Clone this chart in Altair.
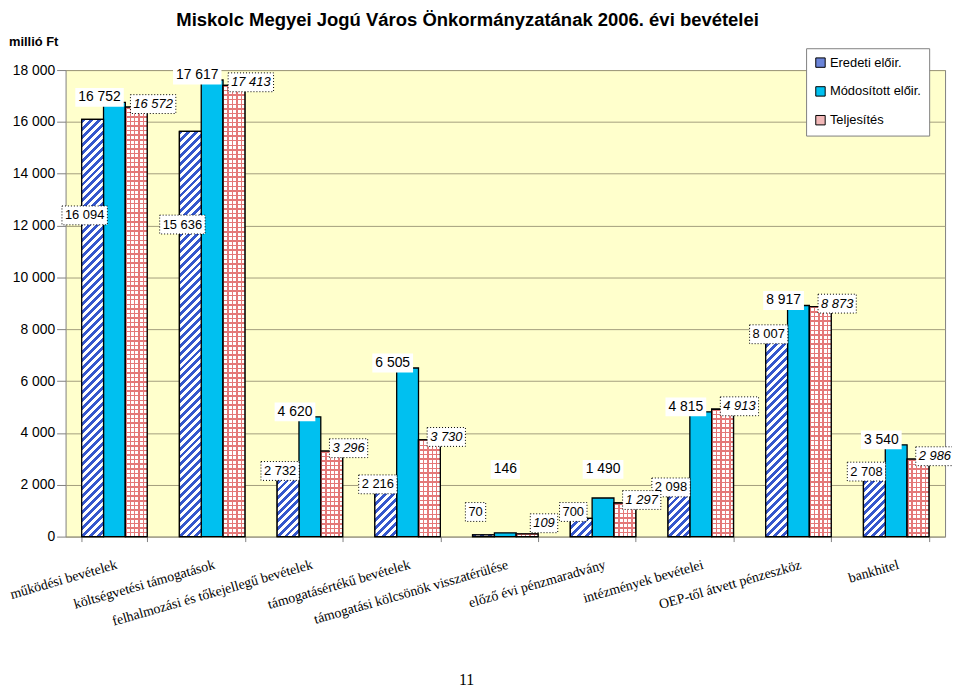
import altair as alt

# ---------------- data ----------------
categories = [
    "működési bevételek",
    "költségvetési  támogatások",
    "felhalmozási és tőkejellegű bevételek",
    "támogatásértékű bevételek",
    "támogatási kölcsönök visszatérülése",
    "előző évi pénzmaradvány",
    "intézmények bevételei",
    "OEP-től átvett pénzeszköz",
    "bankhitel",
]
series_names = ["Eredeti előir.", "Módosított előir.", "Teljesítés"]
eredeti = [16094, 15636, 2732, 2216, 70, 700, 2098, 8007, 2708]
modositott = [16752, 17617, 4620, 6505, 146, 1490, 4815, 8917, 3540]
teljesites = [16572, 17413, 3296, 3730, 109, 1297, 4913, 8873, 2986]
y_ticks = [0, 2000, 4000, 6000, 8000, 10000, 12000, 14000, 16000, 18000]

# ---------------- layout / style ----------------
W, H = 886, 470
YMAX = 18000
PX = H / YMAX
STEP = W / len(categories)
PAD_INNER = 0.33
BAR_W = STEP * (1 - PAD_INNER) / 3

BLUE = "#3557cc"
CYAN = "#00c0f0"
PINK_LINE = "#e47878"
SANS = "Liberation Sans"
SERIF = "Liberation Serif"

# label placement rules per series (small Módosított bars get centred labels)
LABEL = [
    dict(dx=-8, dy=0, size=13, style="normal"),
    dict(dx=-15, dy=-5, size=14, style="normal"),
    dict(dx=17, dy=-3, size=13, style="italic"),
]
MOD_SMALL = 2400


def hatch(h):
    w = BAR_W
    L = w + h
    k = L / (w * w + h * h)
    n = max(1, round(L / 8.0))
    stops = []
    for i in range(n):
        a, b, c = i / n, (i + 0.5) / n, (i + 1) / n
        stops += [
            {"offset": a, "color": BLUE},
            {"offset": b, "color": BLUE},
            {"offset": b, "color": "#ffffff"},
            {"offset": c, "color": "#ffffff"},
        ]
    return {"gradient": "linear", "x1": 0, "y1": 0, "x2": w * k, "y2": h * k, "stops": stops}


def grid_grad(length, vertical, bg):
    n = max(1, round(length / 4.6))
    stops = []
    for i in range(n):
        a, b, c = i / n, (i + 0.32) / n, (i + 1) / n
        stops += [
            {"offset": a, "color": PINK_LINE},
            {"offset": b, "color": PINK_LINE},
            {"offset": b, "color": bg},
            {"offset": c, "color": bg},
        ]
    if vertical:
        return {"gradient": "linear", "x1": 0, "y1": 0, "x2": 0, "y2": 1, "stops": stops}
    return {"gradient": "linear", "x1": 0, "y1": 0, "x2": 1, "y2": 0, "stops": stops}


def fmt(v):
    return f"{v:,}".replace(",", " ")


records = []
for si, (name, vals) in enumerate(zip(series_names, [eredeti, modositott, teljesites])):
    st = LABEL[si]
    for cat, v in zip(categories, vals):
        h = v * PX
        dx, dy = st["dx"], st["dy"]
        small = False
        if si == 0:
            ly = v * 0.77 if v > 10000 else max(v - 200, 950)
        elif si == 1:
            small = v < MOD_SMALL
            ly = max(v, MOD_SMALL)
            if small:
                dx = 0
        else:
            ly = max(v, 400)
        txt = fmt(v)
        tw = st["size"] * sum(0.278 if ch == " " else 0.556 for ch in txt)
        bw, bh = tw + 6, 19
        s = 50.0
        x0, x1 = (dx - bw / 2) / s, (dx + bw / 2) / s
        y0, y1 = (dy - bh / 2) / s, (dy + bh / 2) / s
        box = f"M{x0:.4f},{y0:.4f}H{x1:.4f}V{y1:.4f}H{x0:.4f}Z"
        rec = dict(cat=cat, series=name, value=v, label=txt, ly=ly, box=box, small=small)
        if si == 0:
            rec["g1"] = hatch(h)
        if si == 2:
            rec["g1"] = grid_grad(BAR_W, False, "#ffffff")
            rec["g2"] = grid_grad(h, True, "rgba(255,255,255,0)")
        records.append(rec)

data = alt.Data(values=records)
base = alt.Chart(data)

x_enc = alt.X(
    "cat:N",
    sort=categories,
    title=None,
    scale=alt.Scale(paddingInner=PAD_INNER, paddingOuter=PAD_INNER / 2),
    axis=alt.Axis(
        labelAngle=-16, labelAlign="right", labelBaseline="top", labelPadding=16,
        labelFont=SERIF, labelFontSize=14, labelColor="black", labelLimit=400,
        tickBand="extent", tickSize=5, tickColor="#808080", domain=False, grid=False,
        labelOverlap=False,
    ),
)
xo_enc = alt.XOffset("series:N", sort=series_names, scale=alt.Scale(paddingInner=0, paddingOuter=0))
y_axis = alt.Axis(
    values=y_ticks,
    labelExpr="replace(format(datum.value, ','), ',', ' ')",
    grid=True, gridColor="#a39e7e", gridWidth=1, domain=False,
    tickSize=9, tickColor="#808080", labelFont=SANS, labelFontSize=14,
    labelColor="black", labelPadding=2,
)
y_scale = alt.Scale(domain=[0, YMAX], nice=False)
y_enc = alt.Y("value:Q", stack=None, title=None, scale=y_scale, axis=y_axis)
y_label = alt.Y("ly:Q", title=None, scale=y_scale, axis=y_axis)

bars = base.mark_bar(stroke="black", strokeWidth=1.3, opacity=1).encode(
    x=x_enc, xOffset=xo_enc, y=y_enc,
    color=alt.Color(
        "series:N", sort=series_names,
        scale=alt.Scale(domain=series_names, range=["#6b84d8", CYAN, "#f2b8b8"]),
        legend=alt.Legend(
            title=None, orient="none", legendX=746, legendY=-22, fillColor="white",
            strokeColor="#808080", padding=8, symbolType="square", symbolSize=90,
            symbolStrokeColor="black", symbolStrokeWidth=1, symbolOpacity=1,
            labelFont=SANS, labelFontSize=13, labelColor="black", rowPadding=14,
            labelOffset=3, zindex=1,
        ),
    ),
)

hatch_layer = base.transform_filter(alt.datum.series == series_names[0]).mark_bar(
    stroke="black", strokeWidth=1.3, opacity=1
).encode(x=x_enc, xOffset=xo_enc, y=y_enc, fill=alt.Fill("g1:N", scale=None))

vgrid_layer = base.transform_filter(alt.datum.series == series_names[2]).mark_bar(
    strokeWidth=0, opacity=1
).encode(x=x_enc, xOffset=xo_enc, y=y_enc, fill=alt.Fill("g1:N", scale=None))

hgrid_layer = base.transform_filter(alt.datum.series == series_names[2]).mark_bar(
    stroke="black", strokeWidth=1.3, opacity=1
).encode(x=x_enc, xOffset=xo_enc, y=y_enc, fill=alt.Fill("g2:N", scale=None))

boxes_dotted = base.transform_filter(alt.datum.series != series_names[1]).mark_point(
    filled=True, fill="white", fillOpacity=1, opacity=1, stroke="black",
    strokeWidth=1, strokeDash=[1, 2], strokeOpacity=1,
).encode(x=x_enc, xOffset=xo_enc, y=y_label,
         shape=alt.Shape("box:N", scale=None), size=alt.value(10000))

boxes_plain = base.transform_filter(alt.datum.series == series_names[1]).mark_point(
    filled=True, fill="white", fillOpacity=1, opacity=1, strokeWidth=0,
).encode(x=x_enc, xOffset=xo_enc, y=y_label,
         shape=alt.Shape("box:N", scale=None), size=alt.value(10000))


def text_layer(i, filt=None, dx=None):
    st = LABEL[i]
    ch = base.transform_filter(alt.datum.series == series_names[i])
    if filt is not None:
        ch = ch.transform_filter(filt)
    return ch.mark_text(
        dx=st["dx"] if dx is None else dx, dy=st["dy"], font=SANS, fontSize=st["size"],
        fontStyle=st["style"], align="center", baseline="middle", color="black",
    ).encode(x=x_enc, xOffset=xo_enc, y=y_label, text="label:N")


def static_text(txt, xv, yv, **kw):
    return alt.Chart(alt.Data(values=[{}])).mark_text(text=txt, **kw).encode(
        x=alt.value(xv), y=alt.value(yv)
    )


title = static_text(
    "Miskolc Megyei Jogú Város Önkormányzatának 2006. évi  bevételei", 405, -50,
    font=SANS, fontSize=18.6, fontWeight="bold", align="center", baseline="middle", color="black",
)
unit = static_text("millió Ft", -57, -28, font=SANS, fontSize=13, fontWeight="bold",
                   align="left", baseline="middle", color="black")
page = static_text("11", 404, 619, font=SERIF, fontSize=16, align="center",
                   baseline="alphabetic", color="black")

chart = alt.layer(
    bars, hatch_layer, vgrid_layer, hgrid_layer, boxes_dotted, boxes_plain,
    text_layer(0),
    text_layer(1, filt="!datum.small"),
    text_layer(1, filt="datum.small", dx=0),
    text_layer(2), title, unit, page,
).properties(
    width=W, height=H,
    padding={"left": 58, "top": 60, "right": 7, "bottom": 150},
    autosize=alt.AutoSizeParams(type="none"),
).configure_view(fill="#FFFFCC", stroke="#808080", strokeWidth=1)

chart.save("out.html", embed_options={"renderer": "svg", "actions": False})
